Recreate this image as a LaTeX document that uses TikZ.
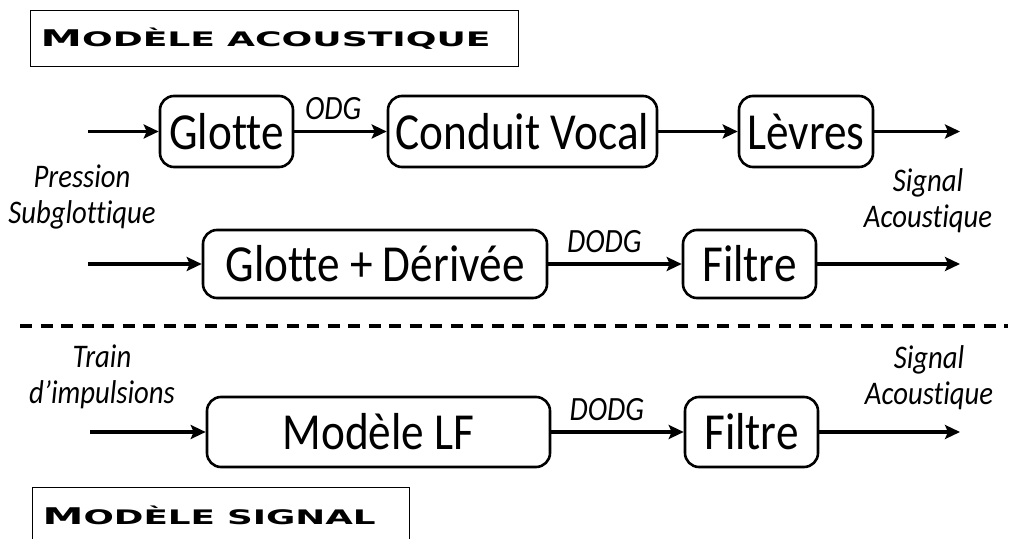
\documentclass[tikz,border=0pt]{standalone}
\usepackage{graphicx}
\usepackage{fontspec}
\setmainfont{Carlito}[FakeStretch=0.87, Ligatures=CommonOff]
\newfontfamily\titrefont{DejaVu Sans}
\usetikzlibrary{arrows.meta}

% titre en petites capitales elargies
\newcommand{\titrebloc}[3]{\resizebox{#1}{\height}{\titrefont\bfseries\fontsize{11.5}{12}\selectfont #2\fontsize{10}{12}\selectfont #3}}

\begin{document}
\begin{tikzpicture}[
    x=0.5pt, y=-0.5pt,
    bloc/.style={draw, rounded corners=7pt, line width=1.3pt, inner sep=0pt, align=center, font=\fontsize{26}{28}\selectfont},
    fleche/.style={-{Stealth[length=7.5pt, width=7pt, inset=1.5pt]}, line width=1.9pt},
    etiq/.style={font=\fontsize{16.5}{18}\selectfont\itshape, align=center, inner sep=0pt},
    flux/.style={font=\fontsize{17}{18}\selectfont\itshape, above=1.5pt, pos=0.42},
    titre/.style={draw, line width=0.7pt, anchor=north west, minimum height=28pt, inner xsep=5pt, align=left},
    separation/.style={line width=1.8pt, dash pattern=on 6pt off 4.25pt}
]
\useasboundingbox (0,0) rectangle (1011,539);

    % Titres
    \node[titre, text width=234pt] (titreA) at (30,10) {\titrebloc{225pt}{M}{ODÈLE ACOUSTIQUE}};
    \begin{scope}
        \clip (0,0) rectangle (1011,539);
        \node[titre, text width=178.5pt] (titreB) at (32,487) {\titrebloc{166.5pt}{M}{ODÈLE SIGNAL}};
    \end{scope}

    % Modele acoustique
    \node[bloc, minimum width=66.5pt, minimum height=35.5pt] (glotte) at (226.5,131.5) {Glotte};
    \node[bloc, minimum width=134.5pt, minimum height=35.5pt] (conduit) at (522.5,131.5) {Conduit Vocal};
    \node[bloc, minimum width=67pt, minimum height=35.5pt] (levres) at (806,131.5) {Lèvres};

    \node[bloc, minimum width=172pt, minimum height=34pt] (derivee) at (375,264) {Glotte + Dérivée};
    \node[bloc, minimum width=66.5pt, minimum height=34pt] (filtreA) at (749.5,264) {Filtre};

    % Modele signal
    \node[bloc, minimum width=171.5pt, minimum height=35pt] (lf) at (378.5,432) {Modèle LF};
    \node[bloc, minimum width=66.5pt, minimum height=35pt] (filtreB) at (751.5,432) {Filtre};

    % Entrees et sorties
    \coordinate (entreeA) at (88,131.5);
    \coordinate (sortieA) at (960,131.5);
    \coordinate (entreeB) at (88,264);
    \coordinate (sortieB) at (960,264);
    \coordinate (entreeC) at (90,432);
    \coordinate (sortieC) at (960,432);

    \node[etiq] (pression) at (82,197) {Pression\\Subglottique};
    \node[etiq] (acoustA) at (928,201) {Signal\\Acoustique};
    \node[etiq] (train) at (102,377) {Train\\d’impulsions};
    \node[etiq] (acoustC) at (929,378) {Signal\\Acoustique};

    % Fleches
    \draw[fleche] (entreeA) -- (glotte);
    \draw[fleche] (glotte) -- node[flux] (odg) {ODG} (conduit);
    \draw[fleche] (conduit) -- (levres);
    \draw[fleche] (levres) -- (sortieA);

    \draw[fleche] (entreeB) -- (derivee);
    \draw[fleche] (derivee) -- node[flux] (dodgA) {DODG} (filtreA);
    \draw[fleche] (filtreA) -- (sortieB);

    \draw[fleche] (entreeC) -- (lf);
    \draw[fleche] (lf) -- node[flux] (dodgB) {DODG} (filtreB);
    \draw[fleche] (filtreB) -- (sortieC);

    % Separation
    \draw[separation] (20,326) -- (1008,326);

\end{tikzpicture}
\end{document}
